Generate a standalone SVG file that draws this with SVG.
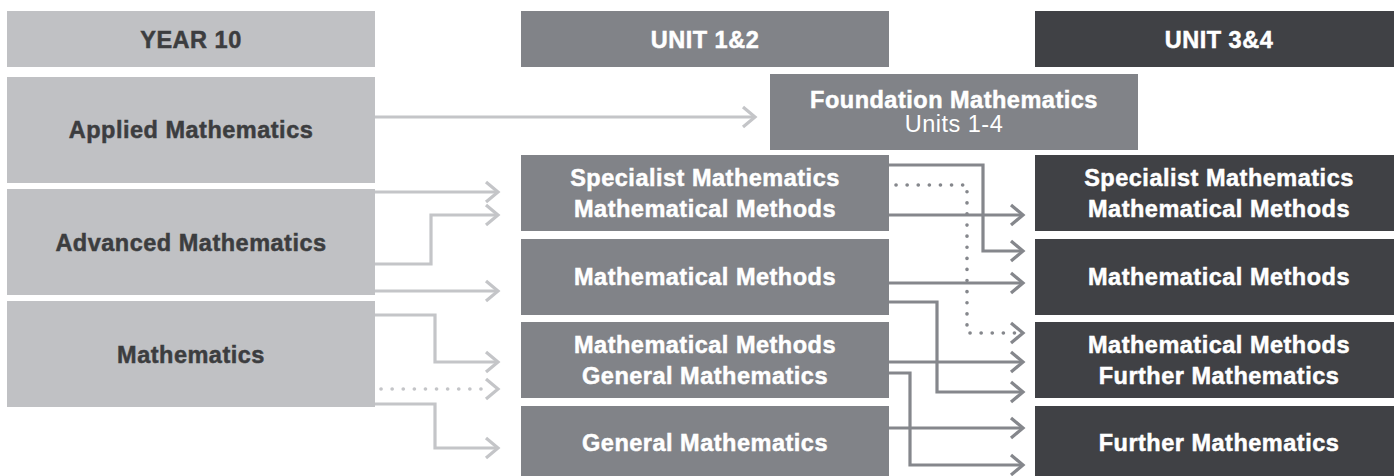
<svg xmlns="http://www.w3.org/2000/svg" width="1394" height="476" viewBox="0 0 1394 476">
<style>
text{font-family:"Liberation Sans",Arial,sans-serif;font-size:23.5px;font-weight:bold;letter-spacing:0.5px;text-anchor:middle;stroke-width:0.5px}
.lt{fill:#c0c1c4}.md{fill:#818388}.dk{fill:#404145}
.tl{fill:#3c3d3f;stroke:#3c3d3f}.tw{fill:#ffffff;stroke:#ffffff}
.reg{font-weight:normal;stroke-width:0}
.cl{fill:none;stroke:#c4c5c8;stroke-width:3.2}
.cd{fill:none;stroke:#85878c;stroke-width:3.2}
.dot{stroke-dasharray:0.1 11;stroke-linecap:round;stroke-width:3.6}
</style>
<defs>
<marker id="al" markerUnits="userSpaceOnUse" viewBox="-2 -2 16 24" refX="12" refY="10" markerWidth="16" markerHeight="24" orient="auto" overflow="visible">
<path d="M0,0 L12,10 L0,20" fill="none" stroke="#c4c5c8" stroke-width="3.2"/>
</marker>
<marker id="ad" markerUnits="userSpaceOnUse" viewBox="-2 -2 16 24" refX="12" refY="10" markerWidth="16" markerHeight="24" orient="auto" overflow="visible">
<path d="M0,0 L12,10 L0,20" fill="none" stroke="#85878c" stroke-width="3.2"/>
</marker>
</defs>

<g id="connectors">
<path class="cl" d="M375,117 H755" marker-end="url(#al)"/>
<path class="cl" d="M375,192 H498" marker-end="url(#al)"/>
<path class="cl" d="M375,264 H431 V215 H498" marker-end="url(#al)"/>
<path class="cl" d="M375,291 H498" marker-end="url(#al)"/>
<path class="cl" d="M375,315 H435 V362 H498" marker-end="url(#al)"/>
<path class="cl dot" d="M381,389 H492"/>
<path class="cl" d="M486,379 L498,389 L486,399"/>
<path class="cl" d="M375,404 H435 V448 H498" marker-end="url(#al)"/>

<path class="cd" d="M889,165 H983 V251 H1023" marker-end="url(#ad)"/>
<path class="cd dot" d="M896,185 H967 V333 H1016"/>
<path class="cd" d="M1011,323 L1023,333 L1011,343"/>
<path class="cd" d="M889,215 H1023" marker-end="url(#ad)"/>
<path class="cd" d="M889,283 H1023" marker-end="url(#ad)"/>
<path class="cd" d="M889,302 H937 V392 H1023" marker-end="url(#ad)"/>
<path class="cd" d="M889,362 H1023" marker-end="url(#ad)"/>
<path class="cd" d="M889,373 H910 V465 H1023" marker-end="url(#ad)"/>
<path class="cd" d="M889,428 H1023" marker-end="url(#ad)"/>
</g>

<g id="hdr-year10"><rect class="lt" x="7" y="11" width="368" height="56"/><text class="tl" x="191" y="48">YEAR 10</text></g>
<g id="hdr-unit12"><rect class="md" x="521" y="11" width="368" height="56"/><text class="tw" x="705" y="48">UNIT 1&amp;2</text></g>
<g id="hdr-unit34"><rect class="dk" x="1035" y="11" width="368" height="56"/><text class="tw" x="1219" y="48">UNIT 3&amp;4</text></g>

<g id="y10-applied"><rect class="lt" x="7" y="77" width="368" height="106"/><text class="tl" x="191" y="138">Applied Mathematics</text></g>
<g id="y10-advanced"><rect class="lt" x="7" y="189" width="368" height="106"/><text class="tl" x="191" y="250.5">Advanced Mathematics</text></g>
<g id="y10-maths"><rect class="lt" x="7" y="301" width="368" height="106"/><text class="tl" x="191" y="362.5">Mathematics</text></g>

<g id="foundation"><rect class="md" x="770" y="74" width="368" height="76"/><text class="tw" x="954" y="108">Foundation Mathematics</text><text class="tw reg" x="954" y="132">Units 1-4</text></g>

<g id="u12-spec-mm"><rect class="md" x="521" y="155" width="368" height="76"/><text class="tw" x="705" y="186">Specialist Mathematics</text><text class="tw" x="705" y="216.5">Mathematical Methods</text></g>
<g id="u12-mm"><rect class="md" x="521" y="239" width="368" height="76"/><text class="tw" x="705" y="284.5">Mathematical Methods</text></g>
<g id="u12-mm-gm"><rect class="md" x="521" y="322" width="368" height="76"/><text class="tw" x="705" y="353.3">Mathematical Methods</text><text class="tw" x="705" y="383.5">General Mathematics</text></g>
<g id="u12-gm"><rect class="md" x="521" y="406" width="368" height="76"/><text class="tw" x="705" y="451">General Mathematics</text></g>

<g id="u34-spec-mm"><rect class="dk" x="1035" y="155" width="368" height="76"/><text class="tw" x="1219" y="186">Specialist Mathematics</text><text class="tw" x="1219" y="216.5">Mathematical Methods</text></g>
<g id="u34-mm"><rect class="dk" x="1035" y="239" width="368" height="76"/><text class="tw" x="1219" y="284.5">Mathematical Methods</text></g>
<g id="u34-mm-fm"><rect class="dk" x="1035" y="322" width="368" height="76"/><text class="tw" x="1219" y="353.3">Mathematical Methods</text><text class="tw" x="1219" y="383.5">Further Mathematics</text></g>
<g id="u34-fm"><rect class="dk" x="1035" y="406" width="368" height="76"/><text class="tw" x="1219" y="451">Further Mathematics</text></g>
</svg>
